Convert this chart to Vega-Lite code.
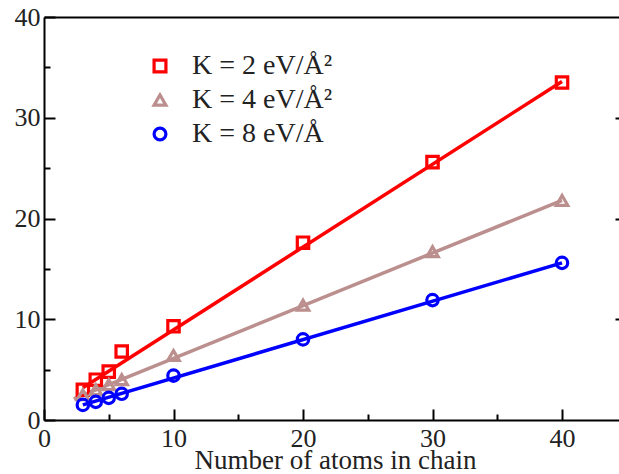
{
  "$schema": "https://vega.github.io/schema/vega-lite/v6.json",
  "width": 575,
  "height": 403,
  "autosize": {"type": "none"},
  "padding": {"left": 44, "top": 17, "right": 0, "bottom": 54},
  "background": "white",
  "config": {
    "view": {"stroke": null},
    "font": "Liberation Serif",
    "axis": {
      "grid": false,
      "domainColor": "black",
      "domainWidth": 2,
      "tickColor": "black",
      "tickWidth": 2,
      "labelFont": "Liberation Serif",
      "labelFontSize": 26,
      "labelColor": "#222222",
      "titleFont": "Liberation Serif",
      "titleFontWeight": "normal",
      "titleFontSize": 27,
      "titleColor": "#222222"
    }
  },
  "datasets": {
    "points": [
      {"n": 3, "value": 3.0, "series": "K = 2 eV/Å²"},
      {"n": 4, "value": 4.0, "series": "K = 2 eV/Å²"},
      {"n": 5, "value": 4.8, "series": "K = 2 eV/Å²"},
      {"n": 6, "value": 6.8, "series": "K = 2 eV/Å²"},
      {"n": 10, "value": 9.3, "series": "K = 2 eV/Å²"},
      {"n": 20, "value": 17.6, "series": "K = 2 eV/Å²"},
      {"n": 30, "value": 25.6, "series": "K = 2 eV/Å²"},
      {"n": 40, "value": 33.5, "series": "K = 2 eV/Å²"},
      {"n": 3, "value": 2.5, "series": "K = 4 eV/Å²"},
      {"n": 4, "value": 3.0, "series": "K = 4 eV/Å²"},
      {"n": 5, "value": 3.5, "series": "K = 4 eV/Å²"},
      {"n": 6, "value": 4.0, "series": "K = 4 eV/Å²"},
      {"n": 10, "value": 6.4, "series": "K = 4 eV/Å²"},
      {"n": 20, "value": 11.4, "series": "K = 4 eV/Å²"},
      {"n": 30, "value": 16.7, "series": "K = 4 eV/Å²"},
      {"n": 40, "value": 21.8, "series": "K = 4 eV/Å²"},
      {"n": 3, "value": 1.5, "series": "K = 8 eV/Å"},
      {"n": 4, "value": 1.8, "series": "K = 8 eV/Å"},
      {"n": 5, "value": 2.2, "series": "K = 8 eV/Å"},
      {"n": 6, "value": 2.6, "series": "K = 8 eV/Å"},
      {"n": 10, "value": 4.4, "series": "K = 8 eV/Å"},
      {"n": 20, "value": 8.0, "series": "K = 8 eV/Å"},
      {"n": 30, "value": 11.9, "series": "K = 8 eV/Å"},
      {"n": 40, "value": 15.6, "series": "K = 8 eV/Å"}
    ],
    "fits": [
      {"n": 3, "value": 3.2, "series": "K = 2 eV/Å²"},
      {"n": 40, "value": 33.6, "series": "K = 2 eV/Å²"},
      {"n": 2.3, "value": 2.1, "series": "K = 4 eV/Å²"},
      {"n": 40, "value": 21.8, "series": "K = 4 eV/Å²"},
      {"n": 3, "value": 1.5, "series": "K = 8 eV/Å"},
      {"n": 40, "value": 15.6, "series": "K = 8 eV/Å"}
    ]
  },
  "resolve": {"axis": {"x": "independent", "y": "independent"}},
  "layer": [
    {
      "data": {"name": "fits"},
      "mark": {"type": "line", "strokeWidth": 3.5},
      "encoding": {
        "x": {
          "field": "n", "type": "quantitative",
          "scale": {"domain": [0, 44.4], "nice": false, "zero": false},
          "axis": {
            "orient": "bottom",
            "values": [0, 5, 10, 15, 20, 25, 30, 35, 40],
            "tickSize": {"condition": {"test": "datum.value % 10 === 0", "value": -11}, "value": -6},
            "labelExpr": "datum.value % 10 === 0 ? datum.label : ''",
            "labelPadding": 16,
            "labelFlush": false,
            "title": "Number of atoms in chain",
            "titleX": 291,
            "titlePadding": -4
          }
        },
        "y": {
          "field": "value", "type": "quantitative",
          "scale": {"domain": [0, 40], "nice": false},
          "axis": {
            "orient": "left",
            "values": [0, 5, 10, 15, 20, 25, 30, 35, 40],
            "tickSize": {"condition": {"test": "datum.value % 10 === 0", "value": -11}, "value": -6},
            "labelExpr": "datum.value % 10 === 0 ? datum.label : ''",
            "labelPadding": 15,
            "labelFlush": false,
            "title": null
          }
        },
        "color": {
          "field": "series", "type": "nominal",
          "scale": {"domain": ["K = 2 eV/Å²", "K = 4 eV/Å²", "K = 8 eV/Å"], "range": ["#ff0000", "#bc8f8f", "#0000ff"]},
          "legend": {
            "title": null,
            "orient": "none",
            "legendX": 102,
            "legendY": 35,
            "padding": 0,
            "rowPadding": 6,
            "symbolStrokeWidth": 3.2,
            "symbolSize": 140,
            "labelOffset": 18,
            "labelFont": "Liberation Serif",
            "labelFontSize": 28,
            "labelColor": "#222222"
          }
        }
      }
    },
    {
      "data": {"name": "points"},
      "mark": {"type": "point", "filled": false, "strokeWidth": 3.2, "opacity": 1, "size": 130},
      "encoding": {
        "x": {
          "field": "n", "type": "quantitative",
          "scale": {"domain": [0, 44.4], "nice": false, "zero": false},
          "axis": {"orient": "top", "ticks": false, "labels": false, "title": null, "domain": true}
        },
        "y": {
          "field": "value", "type": "quantitative",
          "scale": {"domain": [0, 40], "nice": false},
          "axis": {"orient": "right", "values": [10, 20, 30], "tickSize": -12, "offset": 8, "domain": false, "labels": false, "title": null}
        },
        "color": {
          "field": "series", "type": "nominal",
          "scale": {"domain": ["K = 2 eV/Å²", "K = 4 eV/Å²", "K = 8 eV/Å"], "range": ["#ff0000", "#bc8f8f", "#0000ff"]}
        },
        "shape": {
          "field": "series", "type": "nominal",
          "scale": {"domain": ["K = 2 eV/Å²", "K = 4 eV/Å²", "K = 8 eV/Å"], "range": ["square", "triangle-up", "circle"]},
          "legend": {
            "title": null,
            "orient": "none",
            "legendX": 102,
            "legendY": 35,
            "padding": 0,
            "rowPadding": 6,
            "symbolStrokeWidth": 3.2,
            "symbolSize": 140,
            "labelOffset": 18,
            "labelFont": "Liberation Serif",
            "labelFontSize": 28,
            "labelColor": "#222222"
          }
        }
      }
    }
  ]
}
